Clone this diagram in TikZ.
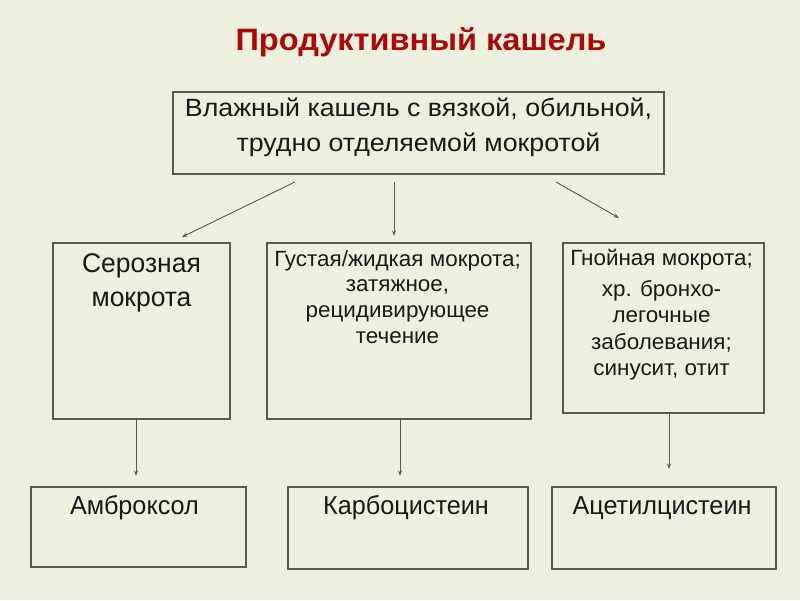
\documentclass[tikz,border=0pt]{standalone}
\usepackage{fontspec}
\setmainfont{Liberation Sans}
\newfontfamily\fTop[FakeStretch=1.07]{Liberation Sans}
\newfontfamily\fA[FakeStretch=0.98]{Liberation Sans}
\newfontfamily\fMid[FakeStretch=1.02]{Liberation Sans}
\newfontfamily\fBot[FakeStretch=0.97]{Liberation Sans}
\newfontfamily\fTtl[FakeStretch=1.05]{Liberation Sans}
\usetikzlibrary{arrows.meta}
\definecolor{bg}{RGB}{237,240,222}
\definecolor{ln}{RGB}{88,92,78}
\definecolor{ttl}{RGB}{172,8,8}
\definecolor{tx}{RGB}{25,25,25}
\begin{document}
\begin{tikzpicture}[x=1pt,y=-1pt,
  box/.style={draw=ln, line width=1.4pt, rectangle, inner sep=0pt},
  txt/.style={text=tx, align=center, inner sep=0pt, anchor=base},
  arr/.style={draw=ln, line width=0.9pt, -{Stealth[length=5.5pt,width=4pt]}}]
\fill[bg] (0,0) rectangle (800,600);
\useasboundingbox (0,0) rectangle (800,600);
% title
\node[txt, text=ttl, font=\fTtl\fontsize{31}{34}\selectfont\bfseries] (title) at (421,50) {Продуктивный кашель};
% top box (base anchor = baseline of last line)
\node[box, minimum width=491pt, minimum height=82pt] (top) at (418.5,133) {};
\node[txt, font=\fTop\fontsize{25}{35}\selectfont] (toptx) at (418.5,151) {Влажный кашель с вязкой, обильной,\\трудно отделяемой мокротой};
% middle boxes
\node[box, minimum width=177pt, minimum height=176pt] (a) at (141.5,331) {};
\node[box, minimum width=264pt, minimum height=176pt] (b) at (399,331) {};
\node[box, minimum width=201pt, minimum height=170pt] (c) at (663.5,328) {};
\node[txt, font=\fA\fontsize{27}{34.4}\selectfont] (atx) at (141.5,306.5) {Серозная\\мокрота};
\node[txt, font=\fMid\fontsize{22}{25.6}\selectfont] (btx) at (397.5,343) {Густая/жидкая мокрота;\\затяжное,\\рецидивирующее\\течение};
\node[txt, font=\fMid\fontsize{22}{26.5}\selectfont] (ctx1) at (661.5,265.5) {Гнойная мокрота;};
\node[txt, font=\fMid\fontsize{22}{26.5}\selectfont] (ctx) at (661.5,375.5) {хр. бронхо-\\легочные\\заболевания;\\синусит, отит};
% bottom boxes
\node[box, minimum width=215pt, minimum height=80pt] (d) at (138.5,527) {};
\node[box, minimum width=240pt, minimum height=82pt] (e) at (408,528) {};
\node[box, minimum width=224pt, minimum height=82pt] (f) at (664,528) {};
\node[txt, font=\fBot\fontsize{26}{30}\selectfont] (dtx) at (134.5,514) {Амброксол};
\node[txt, font=\fBot\fontsize{26}{30}\selectfont] (etx) at (406,514) {Карбоцистеин};
\node[txt, font=\fBot\fontsize{26}{30}\selectfont] (ftx) at (662,514) {Ацетилцистеин};
% arrows
\coordinate (s1) at (295,182); \coordinate (e1) at (182,237);
\coordinate (s2) at (394,182); \coordinate (e2) at (394,236);
\coordinate (s3) at (556,182); \coordinate (e3) at (619,218);
\coordinate (e4) at (136,476);
\coordinate (e5) at (400,476);
\coordinate (e6) at (669,469);
\draw[arr] (s1) -- (e1);
\draw[arr] (s2) -- (e2);
\draw[arr] (s3) -- (e3);
\draw[arr] (a.south -| e4) -- (e4);
\draw[arr] (b.south -| e5) -- (e5);
\draw[arr] (c.south -| e6) -- (e6);
\end{tikzpicture}
\end{document}
